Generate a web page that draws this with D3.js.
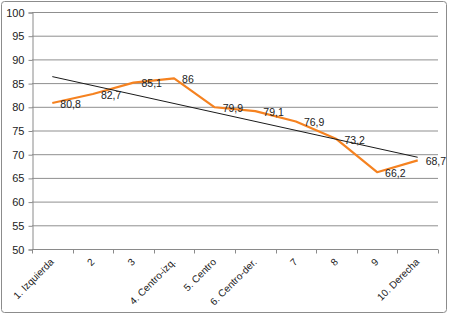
<!DOCTYPE html>
<html>
<head>
<meta charset="utf-8">
<script src="https://cdn.jsdelivr.net/npm/d3@7"></script>
<style>
  body { margin: 0; background: #fff; }
  text { font-family: "Liberation Sans", Arial, sans-serif; fill: #222; }
</style>
</head>
<body>
<div id="chart"></div>
<script>
// data
const categories = ["1. Izquierda", "2", "3", "4. Centro-izq.", "5. Centro",
  "6. Centro-der.", "7", "8", "9", "10. Derecha"];
const values = [80.8, 82.7, 85.1, 86, 79.9, 79.1, 76.9, 73.2, 66.2, 68.7];
const yTicks = [50, 55, 60, 65, 70, 75, 80, 85, 90, 95, 100];

const width = 450, height = 315;
const margin = { top: 12, right: 12, bottom: 66, left: 32 };

const svg = d3.select("#chart").append("svg")
  .attr("width", width)
  .attr("height", height);

// outer frame
svg.append("rect")
  .attr("x", 1.5).attr("y", 1.5)
  .attr("width", width - 5).attr("height", height - 4)
  .attr("rx", 3)
  .attr("fill", "#fff")
  .attr("stroke", "#8c8c8c");

const xScale = d3.scaleBand()
  .domain(categories)
  .range([margin.left, width - margin.right]);

const yScale = d3.scaleLinear()
  .domain([50, 100])
  .range([height - margin.bottom, margin.top]);

// gridlines
svg.append("g")
  .selectAll("line")
  .data(yTicks)
  .enter()
  .append("line")
  .attr("x1", margin.left)
  .attr("x2", width - margin.right)
  .attr("y1", d => yScale(d) + 0.5)
  .attr("y2", d => yScale(d) + 0.5)
  .attr("stroke", "#8f8f8f")
  .attr("stroke-width", 1);

// y axis
let yAxis = d3.axisLeft(yScale).tickValues(yTicks).tickSize(4).tickPadding(4);
let gy = svg.append("g")
  .attr("transform", `translate(${margin.left + 0.5},0.5)`)
  .call(yAxis);
gy.selectAll("path, line").attr("stroke", "#8a8a8a");
gy.selectAll("text").style("font-size", "11px").attr("fill", "#222");

// x axis, ticks on band boundaries
let gx = svg.append("g")
  .attr("transform", `translate(0,${height - margin.bottom + 0.5})`);
gx.append("line")
  .attr("x1", margin.left).attr("x2", width - margin.right)
  .attr("stroke", "#8a8a8a");
let bounds = categories.map(c => xScale(c)).concat([width - margin.right]);
gx.selectAll("line.tick")
  .data(bounds)
  .enter()
  .append("line")
  .attr("class", "tick")
  .attr("x1", d => Math.round(d) + 0.5)
  .attr("x2", d => Math.round(d) + 0.5)
  .attr("y1", 0).attr("y2", 4)
  .attr("stroke", "#8a8a8a");
gx.selectAll("text")
  .data(categories)
  .enter()
  .append("text")
  .attr("text-anchor", "end")
  .attr("transform", d => `translate(${xScale(d) + xScale.bandwidth() / 2 - 1},10) rotate(-45)`)
  .attr("dy", "0.45em")
  .style("font-size", "10px")
  .text(d => d);

const cx = (d, i) => xScale(categories[i]) + xScale.bandwidth() / 2;

// linear trend line (least squares over category index)
let n = values.length;
let mx = (n + 1) / 2;
let my = d3.mean(values);
let sxy = 0, sxx = 0;
values.forEach((v, i) => {
  sxy += (i + 1 - mx) * (v - my);
  sxx += (i + 1 - mx) * (i + 1 - mx);
});
let slope = sxy / sxx;
let trend = [1, n].map(k => [cx(null, k - 1), yScale(my + slope * (k - mx))]);

// series line
svg.append("path")
  .datum(values)
  .attr("d", d3.line().x(cx).y(d => yScale(d)))
  .attr("fill", "none")
  .attr("stroke", "#f58220")
  .attr("stroke-width", 2.2)
  .attr("stroke-linejoin", "round");

svg.append("path")
  .datum(trend)
  .attr("d", d3.line())
  .attr("fill", "none")
  .attr("stroke", "#1a1a1a")
  .attr("stroke-width", 1);

// value labels, decimal comma
svg.append("g")
  .selectAll("text")
  .data(values)
  .enter()
  .append("text")
  .attr("x", (d, i) => cx(d, i) + 8)
  .attr("y", d => yScale(d) + 1)
  .attr("dy", "0.35em")
  .style("font-size", "10.5px")
  .text(d => String(d).replace(".", ","));
</script>
</body>
</html>
